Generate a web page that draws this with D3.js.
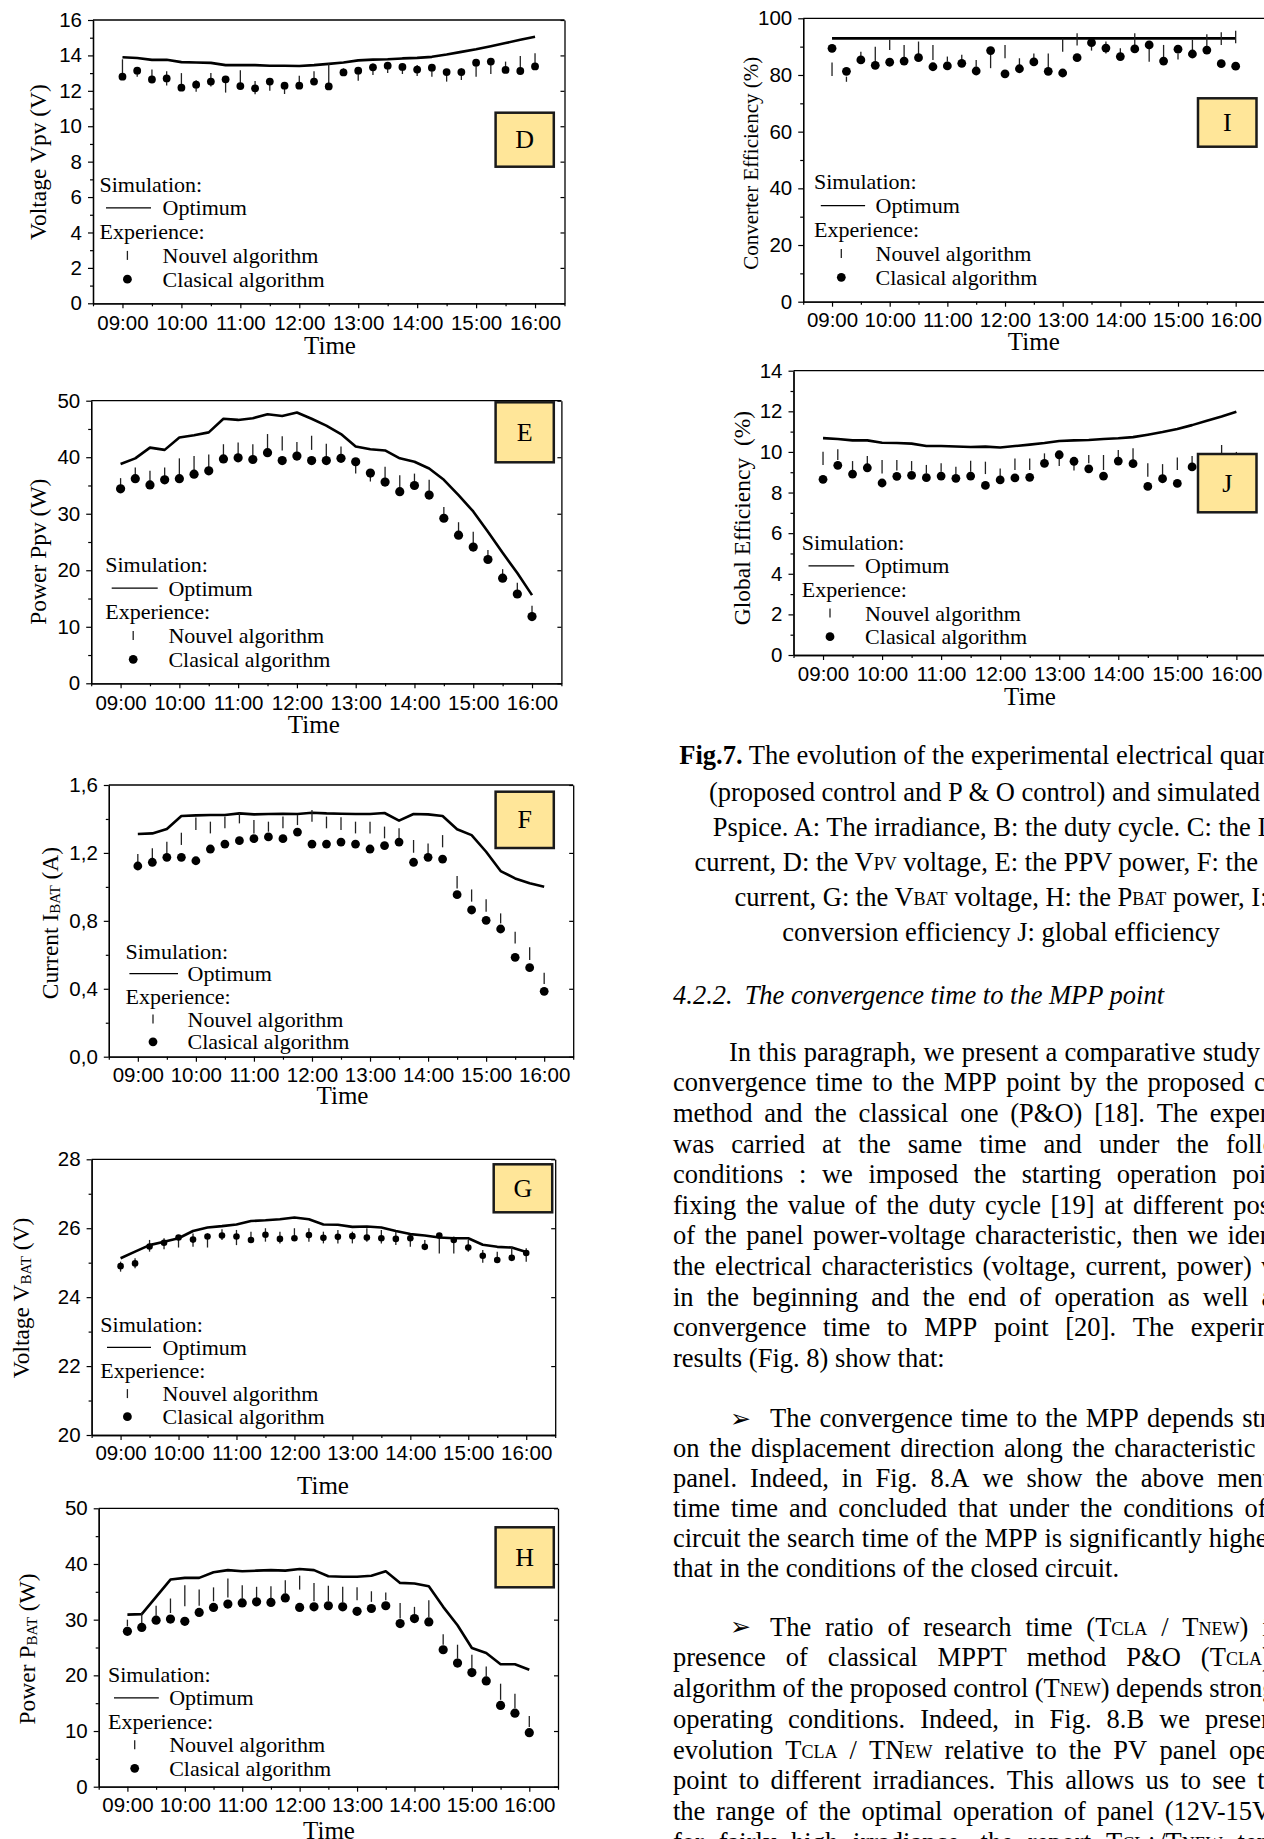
<!DOCTYPE html>
<html>
<head>
<meta charset="utf-8">
<script src="https://cdn.jsdelivr.net/npm/d3@7"></script>
<style>
html, body { margin: 0; padding: 0; background: #fff; overflow: hidden; }
svg { display: block; }
</style>
</head>
<body>
<svg id="page" width="1264" height="1839"></svg>
<script>
// time axis: one reading every quarter hour
var hours = [9, 9.25, 9.5, 9.75, 10, 10.25, 10.5, 10.75, 11, 11.25, 11.5, 11.75, 12, 12.25, 12.5,
             12.75, 13, 13.25, 13.5, 13.75, 14, 14.25, 14.5, 14.75, 15, 15.25, 15.5, 15.75, 16];
var hourTicks = [9, 10, 11, 12, 13, 14, 15, 16];
var timeLabels = ["09:00", "10:00", "11:00", "12:00", "13:00", "14:00", "15:00", "16:00"];
var halfTicks = [8.5, 9.5, 10.5, 11.5, 12.5, 13.5, 14.5, 15.5, 16.5];

// D : Vpv
var optD  = [13.9,13.85,13.75,13.75,13.62,13.6,13.58,13.45,13.45,13.45,13.42,13.42,13.4,13.45,13.52,13.6,13.72,13.76,13.78,13.83,13.86,13.92,14.05,14.2,14.35,14.52,14.7,14.88,15.05];
var clasD = [12.8,13.14,12.64,12.7,12.18,12.35,12.52,12.65,12.27,12.14,12.52,12.29,12.29,12.52,12.25,13.04,13.14,13.33,13.42,13.35,13.2,13.31,13.06,13.06,13.59,13.65,13.18,13.12,13.38];
var nLoD  = [12.9,12.8,12.45,12.3,12.15,11.95,12.25,11.9,12.25,11.8,12.0,11.82,12.15,12.4,12.27,12.95,12.57,12.9,13.0,12.95,12.84,12.8,12.52,12.61,12.8,12.95,13.14,13.27,13.38];
var nHiD  = [13.78,13.35,13.2,13.1,13.0,12.6,13.0,12.83,13.16,12.55,12.73,12.42,12.85,13.1,13.55,13.27,13.27,13.55,13.55,13.46,13.46,13.46,13.18,13.27,13.59,13.74,13.65,13.97,14.12];

// E : Ppv
var optE  = [38.8,39.8,41.7,41.3,43.5,43.9,44.4,46.8,46.6,46.9,47.6,47.3,47.9,46.8,45.6,44.1,41.9,41.4,41.2,39.8,39.2,38.0,36.0,33.3,30.4,26.8,23.1,19.5,15.6];
var clasE = [34.4,36.2,35.1,36.0,36.2,37.0,37.6,39.7,39.9,39.6,40.8,39.4,40.2,39.4,39.4,39.8,39.2,37.2,35.6,33.9,35.0,33.3,29.2,26.2,24.1,21.9,18.6,15.8,11.8];
var nLoE  = [34.8,36.5,35.5,36.4,36.6,37.4,38.0,40.0,40.2,40.0,41.2,41.2,40.6,41.3,39.8,40.2,37.1,35.7,36.0,34.3,35.4,33.7,29.6,26.6,24.5,22.3,19.0,16.2,12.2];
var nHiE  = [36.3,38.2,37.6,38.2,39.8,40.2,40.5,42.3,42.6,42.3,44.1,43.7,42.7,43.8,42.4,41.9,38.8,36.6,38.3,36.8,37.1,36.0,31.2,28.5,26.8,23.6,20.2,17.8,13.7];

// F : Ibat
var optF  = [1.311,1.315,1.341,1.417,1.421,1.423,1.423,1.433,1.427,1.429,1.431,1.429,1.437,1.433,1.431,1.429,1.429,1.435,1.39,1.429,1.427,1.417,1.339,1.305,1.207,1.093,1.05,1.021,1.001];
var clasF = [1.123,1.145,1.174,1.174,1.154,1.223,1.252,1.272,1.284,1.294,1.284,1.323,1.252,1.252,1.264,1.252,1.223,1.243,1.264,1.145,1.174,1.164,0.954,0.864,0.803,0.752,0.585,0.524,0.385];
var nLoF  = [1.139,1.168,1.197,1.247,1.335,1.315,1.345,1.374,1.315,1.325,1.345,1.364,1.384,1.345,1.335,1.315,1.315,1.286,1.286,1.201,1.197,1.233,0.991,0.913,0.854,0.785,0.667,0.569,0.428];
var nHiF  = [1.194,1.227,1.266,1.319,1.408,1.384,1.414,1.437,1.394,1.384,1.414,1.423,1.453,1.414,1.41,1.384,1.384,1.355,1.345,1.276,1.256,1.305,1.064,0.985,0.927,0.844,0.736,0.644,0.495];

// G : Vbat
var optG  = [25.13,25.32,25.51,25.61,25.71,25.92,26.02,26.06,26.11,26.21,26.23,26.26,26.31,26.26,26.11,26.10,26.04,26.05,26.02,25.92,25.83,25.79,25.73,25.71,25.71,25.52,25.46,25.44,25.31];
var clasG = [24.90,24.98,25.47,25.58,25.73,25.67,25.76,25.79,25.76,25.66,25.81,25.69,25.71,25.80,25.72,25.75,25.77,25.73,25.71,25.69,25.71,25.46,25.79,25.66,25.44,25.20,25.08,25.14,25.28];
var nLoG  = [24.74,24.84,25.32,25.39,25.44,25.46,25.44,25.66,25.51,25.61,25.61,25.56,25.66,25.61,25.56,25.56,25.56,25.61,25.56,25.51,25.46,25.37,25.27,25.27,25.32,25.0,25.0,25.08,25.03];
var nHiG  = [25.03,25.13,25.66,25.71,25.8,25.85,25.85,25.97,25.95,25.9,26.0,25.9,26.0,26.0,25.9,25.95,25.9,26.0,25.95,25.9,25.8,25.66,25.85,25.75,25.66,25.37,25.32,25.46,25.42];

// H : Pbat
var optH  = [30.9,31.0,34.1,37.2,37.5,37.5,38.5,38.9,38.7,38.8,38.9,38.8,39.1,38.9,37.8,37.7,37.7,37.9,38.7,36.6,36.5,36.0,32.3,29.0,24.9,24.0,22.0,22.0,21.0];
var clasH = [27.9,28.6,29.9,30.1,29.7,31.3,32.2,32.8,33.0,33.2,33.1,33.9,32.2,32.3,32.5,32.3,31.5,32.0,32.5,29.3,30.2,29.6,24.6,22.2,20.5,19.0,14.6,13.2,9.7];
var nLoH  = [28.8,29.3,30.7,31.2,32.4,32.5,33.3,34.0,33.8,33.9,33.6,34.7,35.4,33.3,33.3,33.1,33.5,33.2,33.5,30.2,31.0,30.5,25.5,23.0,21.3,19.8,15.6,14.1,10.7];
var nHiH  = [30.0,31.3,32.5,33.8,36.2,35.4,35.8,37.4,36.2,35.9,36.0,37.1,37.9,36.6,36.1,35.9,35.8,35.1,34.9,33.0,32.3,33.5,27.4,25.5,23.7,21.6,18.5,16.7,12.7];

// I : converter efficiency
var optI  = [92.9,92.9,92.9,92.9,92.9,92.9,92.9,92.9,92.9,92.9,92.9,92.9,92.9,92.9,92.9,92.9,92.9,92.9,92.9,92.9,92.9,92.9,92.9,92.9,92.9,92.9,92.9,92.9,92.9];
var clasI = [89.4,81.3,85.3,83.4,84.5,84.9,86.1,82.9,83.2,84.1,81.4,88.6,80.4,82.2,84.6,81.3,80.7,86.1,91.4,89.5,86.5,89.2,90.6,84.9,89.1,87.4,88.8,84.0,83.1];
var nLoI  = [79.6,77.6,85.9,84.1,88.8,85.9,87.1,85.3,84.7,85.3,82.9,82.4,85.9,83.5,85.3,82.4,88.2,90.4,88.6,87.6,87.6,90.6,84.7,85.9,85.5,87.6,90.0,90.6,91.2];
var nHiI  = [84.4,79.4,88.2,90.0,92.4,90.6,91.8,90.6,86.5,87.1,85.3,88.2,90.6,85.9,87.6,87.6,92.9,94.7,90.0,91.8,89.4,94.7,89.4,90.6,87.6,92.4,94.4,95.1,95.6];

// J : global efficiency
var optJ  = [10.68,10.64,10.57,10.57,10.45,10.44,10.41,10.29,10.29,10.27,10.24,10.26,10.22,10.29,10.36,10.44,10.54,10.57,10.59,10.64,10.67,10.73,10.85,10.98,11.13,11.32,11.54,11.75,11.98];
var clasJ = [8.65,9.34,8.91,9.22,8.47,8.8,8.85,8.73,8.81,8.7,8.81,8.35,8.62,8.72,8.75,9.44,9.86,9.54,9.17,8.81,9.55,9.42,8.3,8.68,8.45,9.26,9.0,9.1,9.3];
var nLoJ  = [9.36,9.6,9.03,9.36,8.94,9.08,9.08,8.94,9.03,8.91,9.03,8.91,8.7,9.11,9.11,9.6,9.31,9.08,9.44,9.11,9.68,9.52,8.78,8.86,9.11,9.44,9.3,9.93,9.5];
var nHiJ  = [10.01,10.13,9.55,9.8,9.6,9.6,9.55,9.36,9.44,9.27,9.57,9.52,9.19,9.68,9.68,9.93,9.8,9.36,9.85,9.85,10.09,10.18,9.44,9.4,9.73,9.8,9.8,10.34,10.0];

var SERIF = "'Liberation Serif', 'Times New Roman', Times, serif";
var SANS = "'Liberation Sans', Arial, Helvetica, sans-serif";

var svg = d3.select("#page");
svg.append("rect").attr("width", 1264).attr("height", 1839).attr("fill", "#fff");

// text with _{sub} and **bold** pieces
function rich(sel, str, subSize, subShift) {
    var parts = str.split(/(_\{[^}]*\}|\*\*[^*]+\*\*)/).filter(function(s) { return s.length; });
    var shifted = 0;
    parts.forEach(function(p) {
        var t = sel.append("tspan");
        if (p.indexOf("_{") === 0) {
            t.text(p.slice(2, -1)).attr("font-size", subSize).attr("dy", subShift - shifted);
            shifted = subShift;
        } else if (p.indexOf("**") === 0) {
            t.text(p.slice(2, -2)).attr("font-weight", "bold").attr("dy", -shifted);
            shifted = 0;
        } else {
            t.text(p).attr("dy", -shifted);
            shifted = 0;
        }
    });
}

var charts = [
    {id: "D", left: 93, right: 564.5, top: 20, bottom: 303.3, yDom: [0, 16], step: 2, tickDy: 19.4, fmt: d3.format("d"),
     yLabel: "Voltage Vpv (V)", yLabX: 38.3, yLabY: 162, yLabSize: 23.5, timeX: 330, timeY: 345,
     leg: {x: 99.5, y: 184, dy: 23.8, lx0: 106, lx1: 151, tx: 162.6, mx: 127.4},
     box: {x: 495.6, y: 112.7, w: 58.2, h: 54}, r: 3.9,
     opt: optD, clas: clasD, lo: nLoD, hi: nHiD},
    {id: "E", left: 91.2, right: 561.4, top: 400.7, bottom: 683.3, yDom: [0, 50], step: 10, tickDy: 19.4, fmt: d3.format("d"),
     yLabel: "Power Ppv (W)", yLabX: 38.3, yLabY: 551.7, yLabSize: 23.5, timeX: 313.8, timeY: 724,
     leg: {x: 105.2, y: 564.3, dy: 23.75, lx0: 111.7, lx1: 157.7, tx: 168.4, mx: 133.2},
     box: {x: 495.6, y: 402.3, w: 58.2, h: 60}, r: 4.6,
     opt: optE, clas: clasE, lo: nLoE, hi: nHiE},
    {id: "F", left: 108.8, right: 573.2, top: 785, bottom: 1056.7, yDom: [0, 1.6], step: 0.4, tickDy: 18.3,
     fmt: function(d) { return d3.format(".1f")(d).replace(".", ","); },
     yLabel: "Current I_{BAT} (A)", yLabX: 49.8, yLabY: 923, yLabSize: 23.5, timeX: 342.5, timeY: 1095,
     leg: {x: 125.5, y: 951, dy: 22.7, lx0: 129.4, lx1: 178, tx: 187.5, mx: 153},
     box: {x: 495.6, y: 791.7, w: 58.2, h: 56.3}, r: 4.4,
     opt: optF, clas: clasF, lo: nLoF, hi: nHiF},
    {id: "G", left: 91.6, right: 555.2, top: 1159.3, bottom: 1435, yDom: [20, 28], step: 2, tickDy: 18, fmt: d3.format("d"),
     yLabel: "Voltage V_{BAT} (V)", yLabX: 21, yLabY: 1298, yLabSize: 23.5, timeX: 323, timeY: 1485,
     leg: {x: 100.3, y: 1324.3, dy: 23.1, lx0: 107, lx1: 151, tx: 162.6, mx: 127.4},
     box: {x: 493.7, y: 1164.3, w: 58.5, h: 48}, r: 3.3,
     opt: optG, clas: clasG, lo: nLoG, hi: nHiG},
    {id: "H", left: 98.7, right: 558, top: 1508.3, bottom: 1786.7, yDom: [0, 50], step: 10, tickDy: 18.3, fmt: d3.format("d"),
     yLabel: "Power P_{BAT} (W)", yLabX: 26.8, yLabY: 1649, yLabSize: 23.5, timeX: 329, timeY: 1830,
     leg: {x: 108, y: 1674.3, dy: 23.5, lx0: 114, lx1: 158.8, tx: 169.2, mx: 134.7},
     box: {x: 495.6, y: 1527.3, w: 58.2, h: 60}, r: 4.6,
     opt: optH, clas: clasH, lo: nLoH, hi: nHiH},
    {id: "I", left: 803.2, right: 1264.5, top: 18.3, bottom: 301.7, yDom: [0, 100], step: 20, tickDy: 18.3, fmt: d3.format("d"),
     yLabel: "Converter Efficiency (%)", yLabX: 750.8, yLabY: 163.3, yLabSize: 21, timeX: 1033.8, timeY: 341.7,
     leg: {x: 814, y: 181.7, dy: 23.9, lx0: 820.8, lx1: 865.1, tx: 875.5, mx: 841.3},
     box: {x: 1198, y: 98.3, w: 58.5, h: 48.4}, r: 4.4,
     opt: optI, clas: clasI, lo: nLoI, hi: nHiI},
    {id: "J", left: 793.5, right: 1265.9, top: 370.7, bottom: 655, yDom: [0, 14], step: 2, tickDy: 18.3, fmt: d3.format("d"),
     yLabel: "Global Efficiency \u00a0(%)", yLabX: 741.5, yLabY: 518, yLabSize: 23.5, timeX: 1030, timeY: 696.7,
     leg: {x: 801.8, y: 542.3, dy: 23.6, lx0: 808.5, lx1: 854.3, tx: 865.1, mx: 830},
     box: {x: 1198, y: 454, w: 58.5, h: 58.3}, r: 4.4,
     opt: optJ, clas: clasJ, lo: nLoJ, hi: nHiJ}
];

function styleAxis(ax) {
    ax.attr("font-family", SANS).attr("font-size", 20.5);
    ax.selectAll(".domain").attr("stroke", "#000").attr("stroke-width", 1.3);
    ax.selectAll(".tick line").attr("stroke", "#000").attr("stroke-width", 1.2);
    ax.selectAll("text").attr("fill", "#000");
}

function drawChart(c) {
    var g = svg.append("g");
    var x = d3.scaleLinear().domain([8.5, 16.5]).range([c.left, c.right]);
    var y = d3.scaleLinear().domain(c.yDom).range([c.bottom, c.top]);
    var majors = d3.range(c.yDom[0], c.yDom[1] + c.step / 2, c.step);
    var minors = d3.range(c.yDom[0] + c.step / 2, c.yDom[1], c.step);

    // frame top + right (right side falls off the page for I and J)
    g.append("line").attr("x1", c.left).attr("x2", c.right).attr("y1", c.top).attr("y2", c.top)
        .attr("stroke", "#000").attr("stroke-width", 1.3);
    if (c.right < 1264) {
        var rAx = g.append("g").attr("transform", "translate(" + c.right + ",0)")
            .call(d3.axisLeft(y).tickValues(majors).tickSize(4).tickSizeOuter(0).tickFormat(""));
        styleAxis(rAx);
    }

    // x axis
    var xMin = g.append("g").attr("transform", "translate(0," + c.bottom + ")")
        .call(d3.axisBottom(x).tickValues(halfTicks).tickSize(3).tickSizeOuter(0).tickFormat(""));
    styleAxis(xMin);
    var xAx = g.append("g").attr("transform", "translate(0," + c.bottom + ")")
        .call(d3.axisBottom(x).tickValues(hourTicks).tickSize(5).tickSizeOuter(0)
            .tickFormat(function(d, i) { return timeLabels[i]; }));
    styleAxis(xAx);
    xAx.selectAll("text").attr("y", c.tickDy).attr("dy", "0.36em");

    // y axis
    var yMin = g.append("g").attr("transform", "translate(" + c.left + ",0)")
        .call(d3.axisLeft(y).tickValues(minors).tickSize(3).tickSizeOuter(0).tickFormat(""));
    styleAxis(yMin);
    var yAx = g.append("g").attr("transform", "translate(" + c.left + ",0)")
        .call(d3.axisLeft(y).tickValues(majors).tickSize(5).tickPadding(6).tickSizeOuter(0).tickFormat(c.fmt));
    styleAxis(yAx);

    // axis titles
    var yl = g.append("text")
        .attr("transform", "translate(" + c.yLabX + "," + c.yLabY + ") rotate(-90)")
        .attr("text-anchor", "middle").attr("dominant-baseline", "central")
        .attr("font-family", SERIF).attr("font-size", c.yLabSize).attr("fill", "#000");
    rich(yl, c.yLabel, 15, 5);
    g.append("text").attr("x", c.timeX).attr("y", c.timeY)
        .attr("text-anchor", "middle").attr("dominant-baseline", "central")
        .attr("font-family", SERIF).attr("font-size", 25).attr("fill", "#000").text("Time");

    // data
    g.append("path").datum(hours.map(function(h, i) { return [h, c.opt[i]]; }))
        .attr("fill", "none").attr("stroke", "#000").attr("stroke-width", 2.6).attr("stroke-linejoin", "round")
        .attr("d", d3.line().x(function(d) { return x(d[0]); }).y(function(d) { return y(d[1]); }));
    g.selectAll(".nv").data(hours).enter().append("line")
        .attr("x1", function(h) { return x(h); }).attr("x2", function(h) { return x(h); })
        .attr("y1", function(h, i) { return y(c.lo[i]); }).attr("y2", function(h, i) { return y(c.hi[i]); })
        .attr("stroke", "#222").attr("stroke-width", 1.3);
    g.selectAll(".cl").data(hours).enter().append("circle")
        .attr("cx", function(h) { return x(h); }).attr("cy", function(h, i) { return y(c.clas[i]); })
        .attr("r", c.r).attr("fill", "#000");

    // legend
    var L = c.leg;
    var lg = g.append("g").attr("font-family", SERIF).attr("font-size", 22).attr("fill", "#000");
    lg.append("text").attr("x", L.x).attr("y", L.y).attr("dominant-baseline", "central").text("Simulation:");
    lg.append("line").attr("x1", L.lx0).attr("x2", L.lx1).attr("y1", L.y + L.dy).attr("y2", L.y + L.dy)
        .attr("stroke", "#000").attr("stroke-width", 1.3);
    lg.append("text").attr("x", L.tx).attr("y", L.y + L.dy).attr("dominant-baseline", "central").text("Optimum");
    lg.append("text").attr("x", L.x).attr("y", L.y + 2 * L.dy).attr("dominant-baseline", "central").text("Experience:");
    lg.append("line").attr("x1", L.mx).attr("x2", L.mx).attr("y1", L.y + 3 * L.dy - 4.5).attr("y2", L.y + 3 * L.dy + 4.5)
        .attr("stroke", "#222").attr("stroke-width", 1.3);
    lg.append("text").attr("x", L.tx).attr("y", L.y + 3 * L.dy).attr("dominant-baseline", "central").text("Nouvel algorithm");
    lg.append("circle").attr("cx", L.mx).attr("cy", L.y + 4 * L.dy).attr("r", 4.4).attr("fill", "#000");
    lg.append("text").attr("x", L.tx).attr("y", L.y + 4 * L.dy).attr("dominant-baseline", "central").text("Clasical algorithm");

    // letter box
    var B = c.box;
    g.append("rect").attr("x", B.x).attr("y", B.y).attr("width", B.w).attr("height", B.h)
        .attr("fill", "#ffe699").attr("stroke", "#1a1a1a").attr("stroke-width", 2.5);
    g.append("text").attr("x", B.x + B.w / 2).attr("y", B.y + B.h / 2)
        .attr("text-anchor", "middle").attr("dominant-baseline", "central")
        .attr("font-family", SERIF).attr("font-size", 26).attr("fill", "#000").text(c.id);
}

charts.forEach(drawChart);

// ---------- text column ----------
var FS = 26.5;
var colX = 673, colW = 656;

var captionLines = [
    "**Fig.7.** The evolution of the experimental electrical quantities",
    "(proposed control and P & O control) and simulated by",
    "Pspice. A: The irradiance, B: the duty cycle. C: the I_{PV}",
    "current, D: the V_{PV} voltage, E: the PPV power, F: the I_{BAT}",
    "current, G: the V_{BAT} voltage, H: the P_{BAT} power, I:",
    "conversion efficiency J: global efficiency"
];
var captionY = [755, 791.7, 826.7, 861.7, 896.7, 932];

var para1 = [
    "In this paragraph, we present a comparative study of the",
    "convergence time to the MPP point by the proposed control",
    "method and the classical one (P&O) [18]. The experiment",
    "was carried at the same time and under the following",
    "conditions : we imposed the starting operation point by",
    "fixing the value of the duty cycle [19] at different positions",
    "of the panel power-voltage characteristic, then we identified",
    "the electrical characteristics (voltage, current, power) values",
    "in the beginning and the end of operation as well as the",
    "convergence time to MPP point [20]. The experimental",
    "results (Fig. 8) show that:"
];
var para2 = [
    "The convergence time to the MPP depends strongly",
    "on the displacement direction along the characteristic of the",
    "panel. Indeed, in Fig. 8.A we show the above mentioned",
    "time time and concluded that under the conditions of open",
    "circuit the search time of the MPP is significantly higher than",
    "that in the conditions of the closed circuit."
];
var para3 = [
    "The ratio of research time (T_{CLA} / T_{NEW}) in the",
    "presence of classical MPPT method P&O (T_{CLA}) and",
    "algorithm of the proposed control (T_{NEW}) depends strongly on",
    "operating conditions. Indeed, in Fig. 8.B we present the",
    "evolution T_{CLA} / TN_{EW} relative to the PV panel operating",
    "point to different irradiances. This allows us to see that in",
    "the range of the optimal operation of panel (12V-15V) and",
    "for fairly high irradiance, the report T_{CLA}/T_{NEW} tends to"
];

var tg = svg.append("g").attr("font-family", SERIF).attr("font-size", FS).attr("fill", "#000");

captionLines.forEach(function(s, i) {
    var t = tg.append("text").attr("x", 1001).attr("y", captionY[i])
        .attr("text-anchor", "middle").attr("dominant-baseline", "central");
    rich(t, s, 18, 2);
});

var head = tg.append("text").attr("x", colX).attr("y", 995).attr("dominant-baseline", "central")
    .attr("font-style", "italic");
head.append("tspan").text("4.2.2.");
head.append("tspan").attr("dx", 12).text("The convergence time to the MPP point");

function drawPara(lines, y0, dy, indent, bullet) {
    lines.forEach(function(s, li) {
        var yy = y0 + li * dy;
        var off = li === 0 ? indent : 0;
        var last = li === lines.length - 1 && lines !== para3;
        var words = s.split(" ");
        var nodes = words.map(function(w) {
            var t = tg.append("text").attr("y", yy).attr("dominant-baseline", "central");
            rich(t, w, 18, 2);
            return t;
        });
        var widths = nodes.map(function(n) { return n.node().getComputedTextLength(); });
        var total = d3.sum(widths);
        var gap = last ? FS * 0.25 : (colW - off - total) / (words.length - 1);
        var cx = colX + off;
        nodes.forEach(function(n, i) { n.attr("x", cx); cx += widths[i] + gap; });
        if (li === 0 && bullet) {
            tg.append("text").attr("x", colX + 57).attr("y", yy).attr("dominant-baseline", "central")
                .attr("font-family", "'DejaVu Sans', sans-serif").attr("font-size", 25).text("\u27a2");
        }
    });
}

drawPara(para1, 1051.7, 30.6, 56, false);
drawPara(para2, 1418, 30.0, 97, true);
drawPara(para3, 1626.7, 30.7, 97, true);
</script>
</body>
</html>
